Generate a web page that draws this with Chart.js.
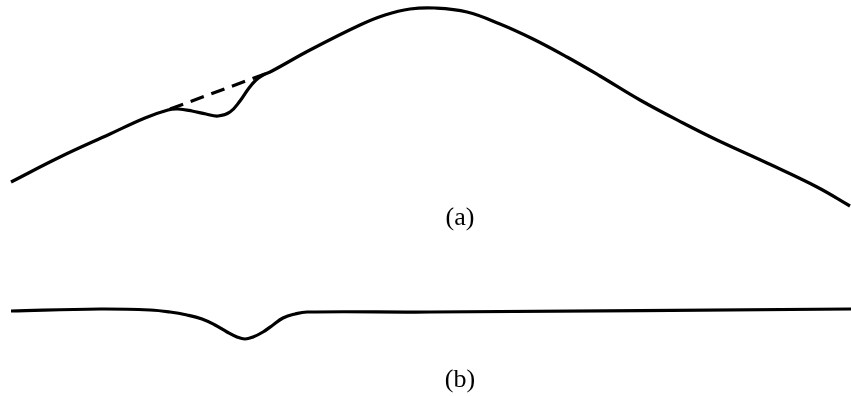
<!DOCTYPE html>
<html>
<head>
<meta charset="utf-8">
<script src="https://cdn.jsdelivr.net/npm/chart.js@4"></script>
<style>
  html, body { margin: 0; padding: 0; background: #fff; }
  #wrap { width: 851px; height: 396px; position: relative; }
</style>
</head>
<body>
<div id="wrap"><canvas id="spectra"></canvas></div>
<script>
"use strict";
// positions along the trace, and heights measured from the bottom edge
var upperX = [11, 60, 110, 145, 168, 178, 192, 206, 218, 230, 240, 249, 256, 263, 272, 310, 360, 385, 410, 435, 467, 500, 533, 567, 600, 640, 683, 717, 767, 817, 850];
var upperY = [214, 239, 262, 278, 286, 287, 285, 282, 280, 284, 295, 308, 316, 321, 325, 346, 371, 381, 387, 388, 384, 372, 357, 339, 320, 296, 273, 256, 233, 209, 190];

// straight baseline bridging the dip in trace (a)
var baseX = [170, 265];
var baseY = [287, 322];

var lowerX = [11, 100, 150, 170, 187, 202, 215, 227, 237, 245, 253, 263, 273, 283, 295, 307, 430, 851];
var lowerY = [85, 87, 86, 84, 81, 77, 71, 64, 59, 57, 59, 64, 71, 78, 82, 84, 84, 87];

var panelLabels = ["(a)", "(b)"];

function toPoints(xs, ys) {
    return xs.map(function (x, i) { return { x: x, y: ys[i] }; });
}

var labelPlugin = {
    id: "panelLabels",
    afterDraw: function (chart) {
        var ctx = chart.ctx, sx = chart.scales.x, sy = chart.scales.y;
        var spots = [[460, 178], [460, 16]];
        ctx.save();
        ctx.fillStyle = "#000";
        ctx.font = "26px 'Liberation Serif', 'Times New Roman', serif";
        ctx.textAlign = "center";
        ctx.textBaseline = "middle";
        panelLabels.forEach(function (t, i) {
            ctx.fillText(t, sx.getPixelForValue(spots[i][0]), sy.getPixelForValue(spots[i][1]));
        });
        ctx.restore();
    }
};

var traceStyle = {
    borderColor: "#000",
    borderWidth: 3.2,
    pointRadius: 0,
    fill: false,
    tension: 0.4
};

new Chart(document.getElementById("spectra"), {
    type: "line",
    data: {
        datasets: [
            Object.assign({ label: "a", data: toPoints(upperX, upperY) }, traceStyle),
            { label: "baseline", data: toPoints(baseX, baseY), borderColor: "#000", borderWidth: 3.2, borderDash: [14, 8], pointRadius: 0, fill: false },
            Object.assign({ label: "b", data: toPoints(lowerX, lowerY) }, traceStyle)
        ]
    },
    options: {
        responsive: true,
        maintainAspectRatio: false,
        animation: false,
        layout: { padding: 0 },
        plugins: { legend: { display: false }, tooltip: { enabled: false } },
        scales: {
            x: { type: "linear", min: 0, max: 851, display: false },
            y: { type: "linear", min: 0, max: 396, display: false }
        }
    },
    plugins: [labelPlugin]
});
</script>
</body>
</html>
